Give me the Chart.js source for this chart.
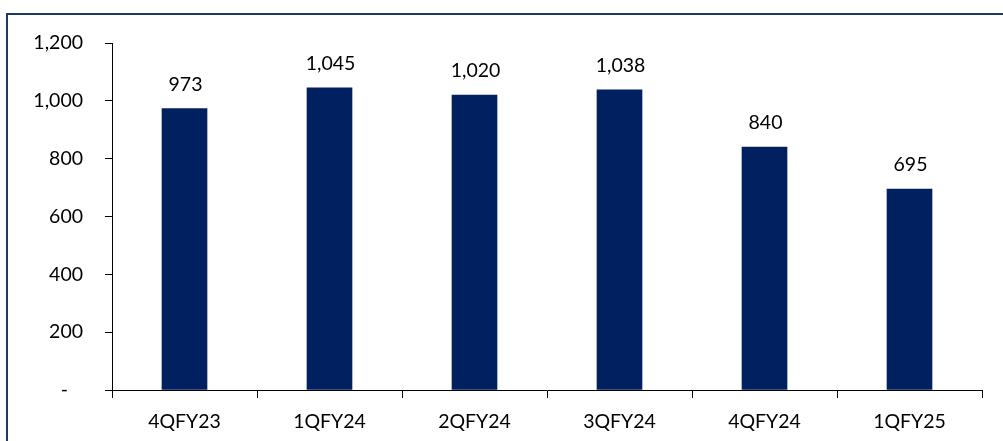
<!DOCTYPE html>
<html>
<head>
<meta charset="utf-8">
<script src="https://cdn.jsdelivr.net/npm/chart.js@4/dist/chart.umd.min.js"></script>
<style>
  html, body { margin: 0; padding: 0; background: #fff; }
  #wrap { position: relative; width: 1003px; height: 441px; overflow: hidden; }
  #frame { position: absolute; left: 6px; top: 13px; width: 1100px; height: 500px;
           border-left: 2px solid #1F3864; border-top: 2px solid #1F3864; box-sizing: border-box; }
  canvas { position: absolute; left: 0; top: 0; }
</style>
</head>
<body>
<div id="wrap">
  <div id="frame"></div>
  <canvas id="c" width="1003" height="441"></canvas>
</div>
<script>
// Quarterly values
const quarters = ['4QFY23', '1QFY24', '2QFY24', '3QFY24', '4QFY24', '1QFY25'];
const values = [973, 1045, 1020, 1038, 840, 695];
const yTicks = [0, 200, 400, 600, 800, 1000, 1200];

const fmt = v => v.toLocaleString('en-US');
const FONT = 'Lato, "Open Sans", sans-serif';
const SIZE = 19.5;

// Value labels above each bar
const barLabels = {
  id: 'barLabels',
  afterDatasetsDraw(chart) {
    const ctx = chart.ctx;
    const meta = chart.getDatasetMeta(0);
    ctx.save();
    ctx.fillStyle = '#000';
    ctx.font = SIZE + 'px ' + FONT;
    ctx.textAlign = 'center';
    ctx.textBaseline = 'alphabetic';
    meta.data.forEach((bar, i) => {
      ctx.fillText(fmt(values[i]), bar.x + 1, bar.y - 18);
    });
    ctx.restore();
  }
};

new Chart(document.getElementById('c'), {
  type: 'bar',
  data: {
    labels: quarters,
    datasets: [{
      data: values,
      backgroundColor: '#002060',
      borderWidth: 0,
      barThickness: 45
    }]
  },
  options: {
    responsive: false,
    animation: false,
    layout: { padding: { left: 0, right: 21, top: 43, bottom: 0 } },
    plugins: { legend: { display: false }, tooltip: { enabled: false } },
    scales: {
      x: {
        offset: true,
        grid: { display: true, offset: true, drawOnChartArea: false, tickLength: 8, color: '#000', lineWidth: 1 },
        border: { display: true, color: '#000', width: 1 },
        ticks: { color: '#000', font: { family: FONT, size: SIZE }, padding: 12, maxRotation: 0 },
        afterFit(scale) { scale.height = 51; }
      },
      y: {
        min: 0,
        max: 1200,
        afterBuildTicks(scale) { scale.ticks = yTicks.map(v => ({ value: v })); },
        grid: { display: true, drawOnChartArea: false, tickLength: 7, color: '#000', lineWidth: 1 },
        border: { display: true, color: '#000', width: 1 },
        ticks: {
          color: '#000',
          font: { family: FONT, size: SIZE },
          padding: 22,
          callback: v => v === 0 ? '-   ' : fmt(v)
        },
        afterFit(scale) { scale.width = 112; }
      }
    }
  },
  plugins: [barLabels]
});
</script>
</body>
</html>
